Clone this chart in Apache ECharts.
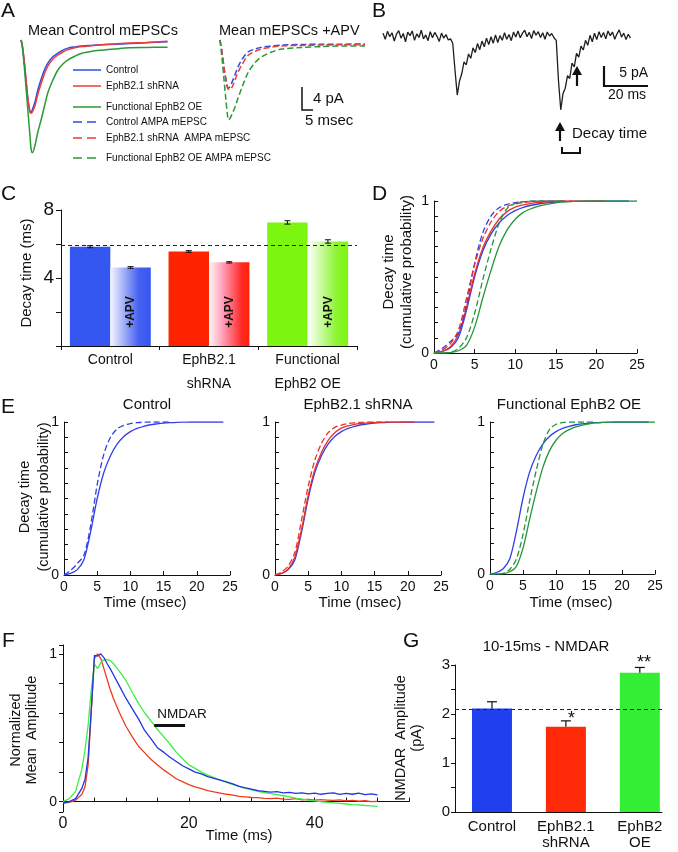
<!DOCTYPE html>
<html>
<head>
<meta charset="utf-8">
<script src="https://cdn.jsdelivr.net/npm/echarts@6.0.0/dist/echarts.min.js"></script>
<style>html,body{margin:0;padding:0;background:#fff}#main{width:678px;height:852px}</style>
</head>
<body>
<div id="main"></div>
<script>
var chart = echarts.init(document.getElementById('main'), null, {renderer: 'canvas'});
var FONT = '"Liberation Sans", Arial, sans-serif';

// A - mean mEPSC traces (ms, pA)
var aTimeLeft = [0, 0.5, 1.4, 2.3, 3.2, 4.1, 4.6, 5.2, 6.4, 7.7, 9.4, 10.9, 12.3, 14.5, 16.8, 19.1, 21.4, 24.5, 27.7, 32, 36.8, 42.7, 49.5, 57, 66.8];
var aControl = [0, -0.7, -3.3, -6.7, -10, -12, -12.1, -11.6, -10.3, -8.3, -6.3, -4.8, -3.8, -2.8, -2.2, -1.7, -1.35, -1.15, -1.0, -0.9, -0.8, -0.7, -0.6, -0.45, -0.3];
var aShrna = [0, -0.7, -3.3, -6.7, -10, -11.9, -12.2, -12.0, -10.9, -9.0, -7.0, -5.4, -4.3, -3.2, -2.5, -2.0, -1.6, -1.3, -1.1, -0.95, -0.8, -0.65, -0.5, -0.4, -0.2];
var aOE = [0, -0.8, -4, -8, -12, -16, -18.2, -18.8, -17.5, -15.3, -13, -10.7, -8.7, -6.7, -5, -4, -3.3, -2.7, -2.2, -1.9, -1.7, -1.5, -1.3, -1.25, -1.2];
var aTimeRight = [0, 0.9, 1.8, 2.7, 3.4, 3.8, 4.5, 5.3, 6.8, 8.3, 9.9, 12.7, 15.9, 19, 23.5, 28.2, 37, 46, 55.5, 66];
var aControlApv = [0, -2, -4.5, -6.5, -7.8, -8, -7.8, -7.2, -5.8, -4.4, -3.3, -2.0, -1.5, -1.2, -1.0, -0.85, -0.75, -0.7, -0.7, -0.65];
var aShrnaApv = [0, -2, -4.5, -6.8, -8.0, -8.2, -8.3, -8.0, -6.7, -5.3, -4.2, -2.6, -1.9, -1.5, -1.2, -1.0, -0.9, -0.85, -0.8, -0.8];
var aOEApv = [0, -3, -6.5, -10, -12.5, -13.3, -13.1, -12.5, -11.2, -9.6, -8, -5.5, -3.8, -2.8, -2.0, -1.5, -1.25, -1.1, -1.0, -1.0];
var aLegend = ['Control', 'EphB2.1 shRNA', 'Functional EphB2 OE', 'Control AMPA mEPSC', 'EphB2.1 shRNA  AMPA mEPSC', 'Functional EphB2 OE AMPA mEPSC'];

// B - raw trace, one value per ms (pA)
var bTrace = [0.8, -0.9, 1.3, -0.2, 0.9, -1.4, 0.5, 1.5, -0.6, 0.7, -1.6, 1.1, 0.1, 1.4, -1.2, 0.6, -0.4, 1.6, -0.8, 0.3,
  -1.3, 1.2, -0.5, 1.0, -0.1, -1.5, 0.8, -0.6, 0.4, -1.1, -0.8, -2.0, -9.5, -16.4, -12.5, -10.5, -7.2, -8.0, -5.0, -6.2,
  -3.3, -4.6, -2.1, -3.8, -1.4, -3.0, -0.6, -2.4, -0.2, -2.0, 0.3, -1.8, 0.1, -1.2, 0.9, -0.9, 0.4, -1.3, 1.1, -0.3,
  1.4, -0.5, 0.8, 1.6, -0.2, 1.0, -0.7, 1.5, 0.2, 1.2, -0.4, 0.9, -0.9, 1.1, 0.0, 0.7, -0.5, -1.2, -12.5, -20.5,
  -16.0, -14.5, -11.0, -11.8, -7.5, -8.6, -4.8, -5.9, -2.8, -3.9, -1.2, -2.6, 0.2, -1.6, 0.8, -1.0, 1.2, -0.4, 1.0, -0.8,
  1.4, 0.1, 1.1, -0.9, 0.6, 1.7, -0.3, 0.8, -1.0, 0.5, -0.6];

// C - decay time (ms)
var cCategories = ['Control', 'EphB2.1\nshRNA', 'Functional\nEphB2 OE'];
var cDecay = [5.84, 5.56, 7.27];
var cDecayApv = [4.62, 4.92, 6.15];
var cErr = [0.06, 0.05, 0.1];
var cErrApv = [0.05, 0.04, 0.1];
var cBaseline = 5.9;

// D / E - cumulative probability, one value per ms
var cdfControl = [0, 0.01, 0.035, 0.1, 0.28, 0.5, 0.67, 0.78, 0.855, 0.905, 0.937, 0.958, 0.972, 0.982, 0.988, 0.993, 0.996, 0.998, 0.999, 1, 1, 1, 1, 1, 1];
var cdfControlApv = [0, 0.03, 0.075, 0.13, 0.32, 0.59, 0.79, 0.9, 0.955, 0.978, 0.99, 0.996, 0.999, 1, 1, 1, 1];
var cdfShrna = [0, 0.01, 0.04, 0.12, 0.3, 0.52, 0.69, 0.8, 0.88, 0.93, 0.96, 0.975, 0.985, 0.99, 0.994, 0.997, 0.999, 1, 1, 1, 1, 1];
var cdfShrnaApv = [0, 0.02, 0.06, 0.15, 0.36, 0.58, 0.75, 0.86, 0.93, 0.965, 0.98, 0.99, 0.995, 0.998, 1, 1, 1, 1];
var cdfOE = [0, 0, 0.003, 0.015, 0.05, 0.17, 0.36, 0.54, 0.7, 0.81, 0.88, 0.925, 0.95, 0.968, 0.98, 0.988, 0.994, 0.997, 0.999, 1, 1, 1, 1, 1, 1, 1];
var cdfOEApv = [0, 0, 0.004, 0.03, 0.1, 0.26, 0.48, 0.68, 0.85, 0.95, 0.985, 0.996, 1, 1, 1, 1, 1];
var eTitles = ['Control', 'EphB2.1 shRNA', 'Functional EphB2 OE'];

// F - normalized mean amplitude
var fTime = [0, 1, 2, 3, 3.5, 4, 4.5, 5, 5.5, 6, 6.5, 7, 7.5, 8, 9, 10, 11, 12, 13, 14, 15, 16, 17, 18, 19, 20, 21, 22, 23, 24, 25,
  26, 27, 28, 29, 30, 31, 32, 33, 34, 35, 36, 37, 38, 39, 40, 41, 42, 43, 44, 45, 46, 47, 48, 49, 50];
var fControl = [-0.01, 0.0, 0.02, 0.09, 0.15, 0.3, 0.62, 0.99, 0.985, 1.0, 0.975, 0.935, 0.9,
  0.86, 0.78, 0.7, 0.63, 0.56, 0.48, 0.425, 0.365, 0.335, 0.3, 0.272, 0.243, 0.222, 0.2, 0.188, 0.17, 0.158, 0.146,
  0.134, 0.12, 0.104, 0.094, 0.084, 0.075, 0.07, 0.064, 0.068, 0.06, 0.063, 0.056, 0.06, 0.053, 0.058, 0.05, 0.056, 0.06, 0.049, 0.056,
  0.05, 0.057, 0.047, 0.053, 0.046];
var fShrna = [-0.01, -0.005, 0.01, 0.05, 0.1, 0.25, 0.62, 0.97, 1.0, 0.97, 0.9, 0.83, 0.76,
  0.7, 0.6, 0.51, 0.44, 0.375, 0.33, 0.285, 0.25, 0.215, 0.185, 0.155, 0.135, 0.115, 0.1, 0.088, 0.075, 0.066, 0.058,
  0.05, 0.044, 0.036, 0.032, 0.028, 0.027, 0.022, 0.02, 0.024, 0.017, 0.016, 0.02, 0.013, 0.015, 0.01, 0.014, 0.011, 0.008, 0.012, 0.005,
  0.009, 0.003, 0.006, 0.0, 0.002];
var fOE = [0.0, 0.02, 0.07, 0.22, 0.35, 0.52, 0.76, 0.93, 0.9, 0.94, 0.96, 0.962, 0.955,
  0.935, 0.88, 0.82, 0.74, 0.665, 0.6, 0.545, 0.49, 0.44, 0.39, 0.335, 0.29, 0.25, 0.225, 0.2, 0.18, 0.162, 0.145,
  0.13, 0.116, 0.103, 0.09, 0.08, 0.07, 0.062, 0.054, 0.047, 0.04, 0.032, 0.024, 0.017, 0.01, 0.005, 0.0, -0.004, -0.008, -0.012, -0.016,
  -0.02, -0.022, -0.026, -0.028, -0.032];
var nmdarWindow = [14.5, 19.4];
var nmdarLevel = 0.52;

// G - NMDAR amplitude 10-15 ms (pA)
var gCategories = ['Control', 'EphB2.1\nshRNA', 'EphB2\nOE'];
var gPos = [0.5, 1.5, 2.5];
var gAmp = [2.11, 1.74, 2.84];
var gErr = [0.14, 0.12, 0.11];
var gBaseline = 2.1;

// colours
var colA = {blue: '#2e4de0', red: '#ee3b3b', green: '#2a9a34'};
var colE = {blue: '#2f3fe8', red: '#e8302a', green: '#23963a'};
var colC = ['#3457f2', '#ff2400', '#7cf511'];
var colCApv = [
  [{offset: 0, color: '#f6f6ff'}, {offset: 0.7, color: '#4562f0'}, {offset: 1, color: '#3457f2'}],
  [{offset: 0, color: '#fff6f8'}, {offset: 0.35, color: '#ff9db5'}, {offset: 0.8, color: '#ff2a2a'}, {offset: 1, color: '#ff2400'}],
  [{offset: 0, color: '#ffffff'}, {offset: 0.7, color: '#8df535'}, {offset: 1, color: '#7cf511'}]
];
var colF = {blue: '#2335e0', red: '#f03a1e', green: '#3cee45'};
var colG = ['#2040f0', '#ff2a08', '#33ee33'];

function pairs(xs, ys) { return ys.map(function (v, i) { return [xs[i], v]; }); }
function indexed(ys) { return ys.map(function (v, i) { return [i, v]; }); }
function only(list) {
  return function (v) {
    for (var i = 0; i < list.length; i++) if (Math.abs(v - list[i]) < 1e-6) return String(list[i]);
    return '';
  };
}
function lineS(gi, data, color, dashed, width, smooth) {
  return {
    type: 'line', xAxisIndex: gi, yAxisIndex: gi, data: data, symbol: 'none', silent: true,
    smooth: smooth,
    lineStyle: {color: color, width: width, type: dashed ? [6, 3] : 'solid'}
  };
}
var black = {color: '#111', width: 1};
function valueAxis(gi, min, max, interval, o) {
  var a = {
    type: 'value', gridIndex: gi, min: min, max: max,
    axisLine: {show: true, lineStyle: black},
    axisTick: {show: o.tick !== false, inside: !!o.inside, length: o.tickLen || 4, lineStyle: black},
    axisLabel: {color: '#111', fontSize: o.size || 14, fontFamily: FONT, margin: o.margin || 5, formatter: o.fmt, lineHeight: o.lh},
    splitLine: {show: false}
  };
  if (interval) a.interval = interval;
  return a;
}
function hidden(gi, min, max) { return {type: 'value', gridIndex: gi, min: min, max: max, show: false}; }

var grids = [
  {left: 21, top: 34, width: 147, height: 126},
  {left: 220, top: 34, width: 145, height: 126},
  {left: 383, top: 25.2, width: 247.5, height: 90},
  {left: 61, top: 210, width: 296, height: 136},
  {left: 434, top: 201, width: 203, height: 152},
  {left: 64, top: 422, width: 166, height: 153},
  {left: 275, top: 422, width: 166, height: 153},
  {left: 490, top: 422, width: 165, height: 152},
  {left: 63, top: 645, width: 346, height: 167},
  {left: 455, top: 665, width: 207, height: 147}
].map(function (g) { g.outerBoundsMode = 'none'; return g; });

var xAxes = [
  hidden(0, 0, 67), hidden(1, 0, 66), hidden(2, 0, 110),
  {type: 'category', gridIndex: 3, data: cCategories,
    axisLine: {show: true, lineStyle: black}, axisTick: {show: true, length: 4, alignWithLabel: false, lineStyle: black},
    axisLabel: {color: '#111', fontSize: 14, fontFamily: FONT, margin: 2, lineHeight: 24, interval: 0}, splitLine: {show: false}},
  valueAxis(4, 0, 25, 5, {inside: true}),
  valueAxis(5, 0, 25, 5, {inside: true}),
  valueAxis(6, 0, 25, 5, {inside: true}),
  valueAxis(7, 0, 25, 5, {inside: true}),
  valueAxis(8, 0, 55, 5, {inside: true, size: 16, margin: 4, fmt: only([0, 20, 40])}),
  valueAxis(9, 0, 2.8, 0.5, {tick: false, size: 15, margin: 7, lh: 16, fmt: function (v) {
    for (var i = 0; i < gPos.length; i++) if (Math.abs(v - gPos[i]) < 1e-6) return gCategories[i];
    return '';
  }})
];
var yAxes = [
  hidden(0, -20, 1), hidden(1, -20, 1), hidden(2, -22, 3),
  valueAxis(3, 0, 8, 2, {tickLen: 5, size: 19, margin: 7, fmt: only([4, 8])}),
  valueAxis(4, 0, 1, 0.1, {inside: true, margin: 5, fmt: only([0, 1])}),
  valueAxis(5, 0, 1, 0.1, {inside: true, margin: 5, fmt: only([0, 1])}),
  valueAxis(6, 0, 1, 0.1, {inside: true, margin: 5, fmt: only([0, 1])}),
  valueAxis(7, 0, 1, 0.1, {inside: true, margin: 5, fmt: only([0, 1])}),
  valueAxis(8, -0.07, 1.06, null, {margin: 6, fmt: only([0, 1])}),
  valueAxis(9, 0, 3, 0.5, {size: 15, margin: 5, fmt: only([0, 1, 2, 3])})
];

var series = [];
// A
series.push(lineS(0, pairs(aTimeLeft, aControl), colA.blue, false, 1.5, 0.3));
series.push(lineS(0, pairs(aTimeLeft, aShrna), colA.red, false, 1.5, 0.3));
series.push(lineS(0, pairs(aTimeLeft, aOE), colA.green, false, 1.5, 0.3));
series.push(lineS(1, pairs(aTimeRight, aControlApv), colA.blue, true, 1.5, 0.3));
series.push(lineS(1, pairs(aTimeRight, aShrnaApv), colA.red, true, 1.5, 0.3));
series.push(lineS(1, pairs(aTimeRight, aOEApv), colA.green, true, 1.5, 0.3));
// B
series.push(lineS(2, indexed(bTrace), '#1e1e1e', false, 1.3, false));
// C
series.push({
  type: 'bar', xAxisIndex: 3, yAxisIndex: 3, barGap: '0%', barCategoryGap: '18%', silent: true,
  data: cDecay.map(function (v, i) { return {value: v, itemStyle: {color: colC[i]}}; })
});
series.push({
  type: 'bar', xAxisIndex: 3, yAxisIndex: 3, barGap: '0%', barCategoryGap: '18%', silent: true,
  data: cDecayApv.map(function (v, i) {
    return {value: v, itemStyle: {color: new echarts.graphic.LinearGradient(0, 0, 1, 0, colCApv[i])}};
  })
});
series.push({
  type: 'custom', xAxisIndex: 3, yAxisIndex: 3, silent: true, z: 5,
  encode: {x: 0, y: 1},
  data: cDecay.map(function (v, i) { return [i, v, cErr[i], -1]; })
    .concat(cDecayApv.map(function (v, i) { return [i, v, cErrApv[i], 1]; })),
  renderItem: function (params, api) {
    var band = api.size([1, 0])[0];
    var barW = band * 0.82 / 2;
    var c = api.coord([api.value(0), api.value(1)]);
    var x = c[0] + api.value(3) * barW / 2;
    var yT = api.coord([api.value(0), api.value(1) + api.value(2)])[1];
    var yB = api.coord([api.value(0), api.value(1) - api.value(2)])[1];
    var st = {stroke: '#111', lineWidth: 1};
    return {type: 'group', children: [
      {type: 'line', shape: {x1: x, y1: yT, x2: x, y2: yB}, style: st},
      {type: 'line', shape: {x1: x - 3, y1: yT, x2: x + 3, y2: yT}, style: st},
      {type: 'line', shape: {x1: x - 3, y1: yB, x2: x + 3, y2: yB}, style: st}
    ]};
  },
  markLine: {silent: true, symbol: 'none', label: {show: false}, lineStyle: {color: '#222', type: [4, 3], width: 1},
    data: [{yAxis: cBaseline}]}
});
// D
series.push(lineS(4, indexed(cdfControl), colE.blue, false, 1.3, 0.3));
series.push(lineS(4, indexed(cdfShrna), colE.red, false, 1.3, 0.3));
series.push(lineS(4, indexed(cdfOE), colE.green, false, 1.3, 0.3));
series.push(lineS(4, indexed(cdfControlApv), colE.blue, true, 1.3, 0.3));
series.push(lineS(4, indexed(cdfShrnaApv), colE.red, true, 1.3, 0.3));
series.push(lineS(4, indexed(cdfOEApv), colE.green, true, 1.3, 0.3));
// E
series.push(lineS(5, indexed(cdfControl), colE.blue, false, 1.3, 0.3));
series.push(lineS(5, indexed(cdfControlApv), colE.blue, true, 1.3, 0.3));
series.push(lineS(6, indexed(cdfControl), colE.blue, false, 1.3, 0.3));
series.push(lineS(6, indexed(cdfShrna), colE.red, false, 1.3, 0.3));
series.push(lineS(6, indexed(cdfShrnaApv), colE.red, true, 1.3, 0.3));
series.push(lineS(7, indexed(cdfControl), colE.blue, false, 1.3, 0.3));
series.push(lineS(7, indexed(cdfOE), colE.green, false, 1.3, 0.3));
series.push(lineS(7, indexed(cdfOEApv), colE.green, true, 1.3, 0.3));
// F
series.push(lineS(8, pairs(fTime, fShrna), colF.red, false, 1.3, false));
series.push(lineS(8, pairs(fTime, fOE), colF.green, false, 1.3, false));
var fBlue = lineS(8, pairs(fTime, fControl), colF.blue, false, 1.3, false);
fBlue.markLine = {silent: true, symbol: 'none', label: {show: false}, lineStyle: {color: '#111', width: 3, type: 'solid'},
  data: [[{coord: [nmdarWindow[0], nmdarLevel]}, {coord: [nmdarWindow[1], nmdarLevel]}]]};
series.push(fBlue);
// G
series.push({
  type: 'bar', xAxisIndex: 9, yAxisIndex: 9, barWidth: 40, silent: true,
  data: gAmp.map(function (v, i) { return {value: [gPos[i], v], itemStyle: {color: colG[i]}}; })
});
series.push({
  type: 'custom', xAxisIndex: 9, yAxisIndex: 9, silent: true, z: 5,
  encode: {x: 0, y: 1},
  data: gAmp.map(function (v, i) { return [gPos[i], v, gErr[i]]; }),
  renderItem: function (params, api) {
    var b = api.coord([api.value(0), api.value(1)]);
    var t = api.coord([api.value(0), api.value(1) + api.value(2)]);
    var st = {stroke: '#111', lineWidth: 1.2};
    return {type: 'group', children: [
      {type: 'line', shape: {x1: b[0], y1: b[1], x2: t[0], y2: t[1]}, style: st},
      {type: 'line', shape: {x1: t[0] - 5, y1: t[1], x2: t[0] + 5, y2: t[1]}, style: st}
    ]};
  },
  markLine: {silent: true, symbol: 'none', label: {show: false}, lineStyle: {color: '#222', type: [4, 3], width: 1},
    data: [{yAxis: gBaseline}]}
});

// annotations
var graphics = [];
function txt(x, y, text, size, o) {
  o = o || {};
  graphics.push({type: 'text', x: x, y: y, z: 100, rotation: o.rot || 0, silent: true, style: {
    text: text, fill: '#111', font: (o.bold ? 'bold ' : '') + size + 'px ' + FONT,
    align: o.align || 'left', verticalAlign: 'middle', lineHeight: o.lh
  }});
}
function poly(points, width, dash, color) {
  graphics.push({type: 'polyline', z: 100, silent: true, shape: {points: points},
    style: {stroke: color || '#111', lineWidth: width, fill: null, lineDash: dash || null}});
}
function head(points) {
  graphics.push({type: 'polygon', z: 100, silent: true, shape: {points: points}, style: {fill: '#111'}});
}
[['A', 1, 11], ['B', 372, 11], ['C', 1, 194], ['D', 372, 194], ['E', 1, 407], ['F', 2, 641], ['G', 403, 641]]
  .forEach(function (p) { txt(p[1], p[2], p[0], 21); });

txt(28, 31, 'Mean Control mEPSCs', 14.5);
txt(219, 31, 'Mean mEPSCs +APV', 14.5);
var legRows = [70, 86, 107, 122, 138, 158];
var legCols = [colA.blue, colA.red, colA.green, colA.blue, colA.red, colA.green];
aLegend.forEach(function (t, i) {
  poly([[73, legRows[i]], [101, legRows[i]]], 1.5, i > 2 ? [9, 5] : null, legCols[i]);
  txt(106, legRows[i], t, 10);
});
poly([[302, 87], [302, 110], [313, 110]], 1.5);
txt(313, 99, '4 pA', 15);
txt(305, 121, '5 msec', 15);

poly([[604, 66], [604, 86], [648, 86]], 2.2);
txt(648, 73, '5 pA', 14, {align: 'right'});
txt(627, 95, '20 ms', 14, {align: 'center'});
poly([[577, 86], [577, 72]], 2.2); head([[572, 75], [577, 66], [582, 75]]);
poly([[560, 141], [560, 128]], 2.2); head([[555, 131], [560, 122], [565, 131]]);
txt(572, 134, 'Decay time', 15);
poly([[562, 147], [562, 153], [580, 153], [580, 147]], 2);

[131, 230, 329].forEach(function (x) { txt(x, 312, '+APV', 12, {bold: true, rot: Math.PI / 2, align: 'center'}); });
txt(27, 273, 'Decay time (ms)', 15, {rot: Math.PI / 2, align: 'center'});
txt(398, 272, 'Decay time\n(cumulative probability)', 15, {rot: Math.PI / 2, align: 'center', lh: 18.5});

[147, 358, 569].forEach(function (x, i) { txt(x, 405, eTitles[i], 15, {align: 'center'}); });
[145, 360, 571].forEach(function (x) { txt(x, 603, 'Time (msec)', 15, {align: 'center'}); });
txt(34, 497, 'Decay time\n(cumulative probability)', 14.5, {rot: Math.PI / 2, align: 'center', lh: 19});

txt(24, 730, 'Normalized\nMean  Amplitude', 14.5, {rot: Math.PI / 2, align: 'center', lh: 16});
txt(239, 836, 'Time (ms)', 15, {align: 'center'});
txt(182, 714, 'NMDAR', 13.5, {align: 'center'});

txt(546, 647, '10-15ms - NMDAR', 15, {align: 'center'});
txt(409, 738, 'NMDAR  Amplitude\n(pA)', 14.5, {rot: Math.PI / 2, align: 'center', lh: 16});
txt(571.5, 719, '*', 18, {align: 'center'});
txt(644, 663.5, '**', 18, {align: 'center'});

chart.setOption({
  animation: false,
  backgroundColor: '#fff',
  textStyle: {fontFamily: FONT},
  grid: grids,
  xAxis: xAxes,
  yAxis: yAxes,
  series: series,
  graphic: graphics
});
</script>
</body>
</html>
